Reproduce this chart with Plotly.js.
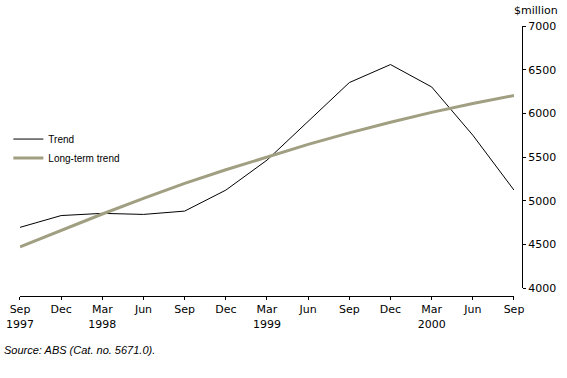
<!DOCTYPE html>
<html>
<head>
<meta charset="utf-8">
<script src="https://cdn.plot.ly/plotly-3.0.1.min.js"></script>
<style>html,body{margin:0;padding:0;background:#fff;}#chart{width:567px;height:378px;}</style>
</head>
<body>
<div id="chart"></div>
<script>
const quarters = ["Sep<br>1997","Dec","Mar<br>1998","Jun","Sep","Dec","Mar<br>1999","Jun","Sep","Dec","Mar<br>2000","Jun","Sep"];
const trend = [4697, 4832, 4857, 4845, 4883, 5123, 5466, 5915, 6353, 6559, 6303, 5751, 5123];
const longTermTrend = [4475, 4665, 4850, 5028, 5200, 5356, 5505, 5646, 5778, 5900, 6012, 6113, 6205];
const yTicks = [4000, 4500, 5000, 5500, 6000, 6500, 7000];

const idx = quarters.map((_, i) => i);
const font = {family: "DejaVu Sans, Liberation Sans, sans-serif", size: 11, color: "#000"};

const data = [
  {x: idx, y: trend, type: "scatter", mode: "lines", name: "Trend",
   line: {color: "#000000", width: 1}},
  {x: idx, y: longTermTrend, type: "scatter", mode: "lines", name: "Long-term trend",
   line: {color: "#a09f82", width: 3}}
];

const layout = {
  width: 567, height: 378,
  margin: {l: 0, r: 45, t: 26, b: 82},
  paper_bgcolor: "#fff", plot_bgcolor: "#fff",
  font: font,
  showlegend: true,
  legend: {x: 0.016, y: 0.635, xanchor: "left", yanchor: "top", bgcolor: "rgba(0,0,0,0)",
           font: {family: "Liberation Sans, Arial, sans-serif", size: 10, color: "#000"}, tracegroupgap: 0},
  xaxis: {
    domain: [0.03831, 0.98467], range: [0, 12], anchor: "free", position: 0,
    tickmode: "array", tickvals: idx, ticktext: quarters,
    ticks: "outside", ticklen: 3, tickcolor: "#000", tickwidth: 1,
    showline: true, linecolor: "#000", linewidth: 1, showgrid: false, zeroline: false,
    tickfont: font, tickangle: 0
  },
  yaxis: {
    domain: [0.0285, 1], range: [4000, 7000], side: "right", anchor: "free", position: 1,
    tickmode: "array", tickvals: yTicks, ticktext: yTicks.map(String),
    ticks: "outside", ticklen: 3, tickcolor: "#000", tickwidth: 1,
    showline: true, linecolor: "#000", linewidth: 1, showgrid: false, zeroline: false,
    tickfont: font
  },
  annotations: [
    {text: "$million", xref: "paper", yref: "paper", x: 1.0728, y: 1.059,
     xanchor: "right", yanchor: "middle", showarrow: false, font: font},
    {text: "<i>Source: ABS (Cat. no. 5671.0).</i>", xref: "paper", yref: "paper",
     x: 0.004, y: -0.2, xanchor: "left", yanchor: "middle", showarrow: false,
     font: {family: "Liberation Sans, Arial, sans-serif", size: 11, color: "#000"}}
  ]
};

Plotly.newPlot("chart", data, layout, {displayModeBar: false, staticPlot: true});
</script>
</body>
</html>
